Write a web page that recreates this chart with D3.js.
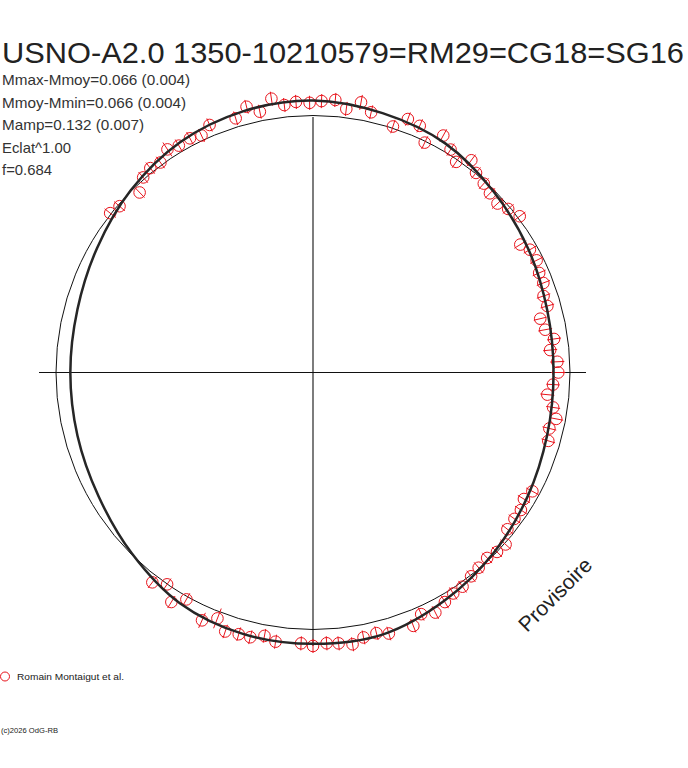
<!DOCTYPE html>
<html><head><meta charset="utf-8">
<script src="https://cdn.jsdelivr.net/npm/d3@7"></script>
<style>body{margin:0;background:#fff}svg{display:block}</style>
</head><body>
<script>
const title = "USNO-A2.0 1350-10210579=RM29=CG18=SG16";
const infoLines = ["Mmax-Mmoy=0.066 (0.004)", "Mmoy-Mmin=0.066 (0.004)", "Mamp=0.132 (0.007)", "Eclat^1.00", "f=0.684"];
const legendLabel = "Romain Montaigut et al.";
const credit = "(c)2026 OdG-RB";
const watermark = "Provisoire";

// observations: phase (0..1, clockwise from top), magnitude deviation (outward positive), error
const phases = [
 0.005,0.013,0.020,0.028,0.035,0.050,0.057,0.065,0.072,0.080,
 0.088,0.095,0.102,0.109,0.117,0.124,0.132,0.139,0.147,0.162,
 0.168,0.176,0.184,0.191,0.199,0.206,0.213,0.221,0.228,0.235,
 0.243,0.250,0.258,0.265,0.273,0.280,0.287,0.295,0.329,0.336,
 0.343,0.350,0.358,0.366,0.373,0.380,0.388,0.395,0.403,0.410,
 0.417,0.425,0.433,0.440,0.455,0.462,0.470,0.477,0.485,0.492,
 0.500,0.507,0.522,0.529,0.537,0.544,0.552,0.559,0.567,0.581,
 0.588,0.596,0.604,0.856,0.863,0.878,0.886,0.893,0.900,0.908,
 0.915,0.923,0.930,0.937,0.953,0.961,0.968,0.976,0.983,0.990,
 0.998];
const mags = [
 0.062,0.070,0.037,0.074,0.041,0.007,0.058,0.050,-0.006,0.057,
 0.021,-0.010,0.033,0.003,-0.010,-0.022,-0.029,-0.010,0.009,-0.057,
 -0.033,-0.029,-0.042,-0.042,-0.060,-0.057,-0.100,-0.089,-0.058,-0.080,
 -0.053,-0.050,-0.071,-0.092,-0.061,-0.040,-0.060,-0.051,-0.032,-0.047,
 -0.033,-0.034,-0.031,0.005,0.000,-0.011,-0.004,0.004,0.018,0.020,
 0.033,0.053,0.033,0.066,0.063,0.048,0.054,0.075,0.064,0.060,
 0.070,0.060,0.063,0.046,0.064,0.064,0.070,0.029,0.062,0.012,
 0.054,0.001,0.031,0.004,-0.008,-0.030,0.007,0.018,0.011,0.040,
 0.028,0.032,0.021,0.048,0.037,0.072,0.039,0.085,0.051,0.060,
 0.054];
const errs = [
 0.030,0.030,0.030,0.032,0.030,0.030,0.030,0.030,0.030,0.030,
 0.030,0.030,0.030,0.030,0.030,0.030,0.032,0.030,0.030,0.030,
 0.030,0.030,0.030,0.030,0.030,0.030,0.028,0.030,0.030,0.030,
 0.030,0.030,0.028,0.030,0.030,0.030,0.030,0.030,0.030,0.030,
 0.030,0.030,0.030,0.030,0.030,0.030,0.030,0.030,0.030,0.030,
 0.030,0.030,0.030,0.030,0.030,0.030,0.030,0.030,0.030,0.030,
 0.030,0.030,0.030,0.030,0.030,0.030,0.030,0.045,0.035,0.030,
 0.030,0.030,0.030,0.030,0.030,0.030,0.030,0.030,0.030,0.035,
 0.030,0.030,0.030,0.030,0.030,0.030,0.030,0.030,0.030,0.030,
 0.030];

// fitted light curve, read at every 1/24 of phase
const fitPhases = [0,0.0417,0.0833,0.125,0.1667,0.2083,0.25,0.2917,0.3333,0.375,0.4167,0.4583,
                   0.5,0.5417,0.5833,0.625,0.6667,0.7083,0.75,0.7917,0.8333,0.875,0.9167,0.9583];
const fitMags = [0.064,0.049,0.032,-0.006,-0.037,-0.062,-0.070,-0.062,-0.039,-0.007,0.027,0.060,
                 0.061,0.058,0.040,-0.004,-0.040,-0.056,-0.061,-0.056,-0.033,0.003,0.038,0.057];

const W = 688, H = 768, cx = 313, cy = 372.5;
const svg = d3.select("body").append("svg").attr("width", W).attr("height", H);
const font = "'Liberation Sans', Arial, sans-serif";

const angle = d3.scaleLinear().domain([0, 1]).range([0, 2 * Math.PI]);
const radius = d3.scaleLinear().domain([-0.1, 0.1]).range([233.5, 280.5]);

const g = svg.append("g").attr("transform", `translate(${cx},${cy})`);

// reference (mean) circle
g.append("circle").attr("r", radius(0)).attr("fill", "none").attr("stroke", "#111").attr("stroke-width", 1);
// axes
g.append("line").attr("x1", -274).attr("x2", 273).attr("y1", 0).attr("y2", 0).attr("stroke", "#111").attr("stroke-width", 1.1);
g.append("line").attr("x1", 0).attr("x2", 0).attr("y1", -255.5).attr("y2", 273.5).attr("stroke", "#111").attr("stroke-width", 1.1);

// observations
const pts = phases.map((p, i) => ({p, m: mags[i], e: errs[i]}));
const red = "#e8141c";
const pg = g.append("g");
pts.forEach(d => {
  const [x, y] = d3.pointRadial(angle(d.p), radius(d.m));
  const [x1, y1] = d3.pointRadial(angle(d.p), radius(d.m - d.e));
  const [x2, y2] = d3.pointRadial(angle(d.p), radius(d.m + d.e));
  pg.append("line").attr("x1", x1).attr("y1", y1).attr("x2", x2).attr("y2", y2)
    .attr("stroke", red).attr("stroke-width", 1);
  pg.append("circle").attr("cx", x).attr("cy", y).attr("r", 5.8)
    .attr("fill", "none").attr("stroke", red).attr("stroke-width", 1);
});

// fitted curve
const fit = fitPhases.map((p, i) => ({p, m: fitMags[i]}));
const lineR = d3.lineRadial().angle(d => angle(d.p)).radius(d => radius(d.m)).curve(d3.curveCatmullRomClosed);
g.append("path").attr("d", lineR(fit)).attr("fill", "none").attr("stroke", "#262626").attr("stroke-width", 2.5);

// texts
svg.append("text").attr("x", 2).attr("y", 63).text(title)
  .attr("font-family", font).attr("font-size", 30).attr("fill", "#222")
  .attr("textLength", 682).attr("lengthAdjust", "spacingAndGlyphs");
const infoW = [188, 184, 142, 69, 50];
infoLines.forEach((t, i) => {
  svg.append("text").attr("x", 2).attr("y", 85 + i * 22.6).text(t)
    .attr("font-family", font).attr("font-size", 15).attr("fill", "#333")
    .attr("textLength", infoW[i]).attr("lengthAdjust", "spacingAndGlyphs");
});

// legend
svg.append("circle").attr("cx", 5).attr("cy", 676.5).attr("r", 4.5).attr("fill", "none").attr("stroke", red).attr("stroke-width", 1);
svg.append("text").attr("x", 17).attr("y", 680).text(legendLabel)
  .attr("font-family", font).attr("font-size", 9.5).attr("fill", "#222")
  .attr("textLength", 107).attr("lengthAdjust", "spacingAndGlyphs");

svg.append("text").attr("x", 1).attr("y", 733).text(credit)
  .attr("font-family", font).attr("font-size", 6.5).attr("fill", "#222")
  .attr("textLength", 57).attr("lengthAdjust", "spacingAndGlyphs");

svg.append("text").attr("transform", "translate(527,633) rotate(-45)").text(watermark)
  .attr("font-family", font).attr("font-size", 21).attr("fill", "#222")
  .attr("textLength", 94).attr("lengthAdjust", "spacingAndGlyphs");
</script>
</body></html>
